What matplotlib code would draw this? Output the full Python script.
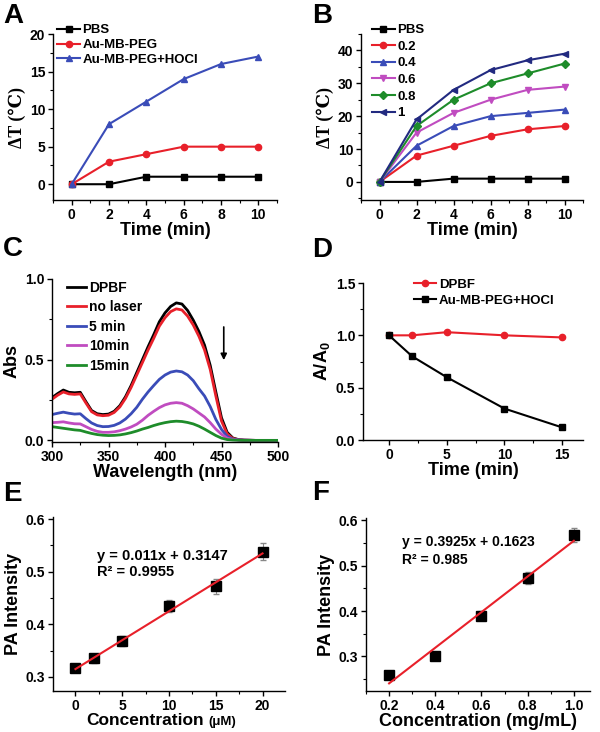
import numpy as np
import matplotlib
matplotlib.use("Agg")
import matplotlib.pyplot as plt
from matplotlib.ticker import AutoMinorLocator, MultipleLocator, FormatStrFormatter

plt.rcParams["font.family"] = ["Liberation Sans", "DejaVu Sans"]
plt.rcParams["font.weight"] = "bold"
plt.rcParams["axes.linewidth"] = 1.0

# ---- data ----
# A: temperature rise
time_a = [0, 2, 4, 6, 8, 10]
pbs_a = [0, 0, 1, 1, 1, 1]
peg_a = [0, 3, 4, 5, 5, 5]
hocl_a = [0, 8, 11, 14, 16, 17]

# B: concentration series
time_b = [0, 2, 4, 6, 8, 10]
b_labels = ["PBS", "0.2", "0.4", "0.6", "0.8", "1"]
b_series = [
    [0, 0, 1, 1, 1, 1],
    [0, 8, 11, 14, 16, 17],
    [0, 11, 17, 20, 21, 22],
    [0, 15, 21, 25, 28, 29],
    [0, 17, 25, 30, 33, 36],
    [0, 19, 28, 34, 37, 39],
]

# C: absorbance spectra
wl = [300, 305, 310, 315, 320, 325, 330, 335, 340, 345, 350, 355, 360, 365,
      370, 375, 380, 385, 390, 395, 400, 405, 410, 415, 420, 425, 430, 435,
      440, 445, 450, 455, 460, 465, 470, 480, 490, 500]
abs_dpbf = [0.265, 0.290, 0.312, 0.298, 0.295, 0.298, 0.240, 0.185, 0.165, 0.160,
            0.163, 0.180, 0.215, 0.270, 0.340, 0.420, 0.500, 0.580, 0.655, 0.735,
            0.790, 0.830, 0.852, 0.845, 0.805, 0.745, 0.675, 0.590, 0.465, 0.300,
            0.140, 0.050, 0.015, 0.005, 0.002, 0.0, 0.0, 0.0]
abs_nolaser = [0.255, 0.280, 0.300, 0.288, 0.285, 0.288, 0.232, 0.178, 0.158, 0.153,
               0.156, 0.173, 0.207, 0.260, 0.328, 0.405, 0.482, 0.560, 0.632, 0.708,
               0.760, 0.798, 0.815, 0.808, 0.770, 0.715, 0.645, 0.560, 0.440, 0.275,
               0.120, 0.040, 0.012, 0.004, 0.001, 0.0, 0.0, 0.0]
abs_5 = [0.160, 0.168, 0.175, 0.168, 0.163, 0.165, 0.135, 0.108, 0.092, 0.085,
         0.086, 0.093, 0.108, 0.132, 0.165, 0.205, 0.255, 0.300, 0.340, 0.378,
         0.405, 0.423, 0.430, 0.425, 0.405, 0.370, 0.320, 0.275, 0.210, 0.130,
         0.068, 0.025, 0.008, 0.003, 0.001, 0.0, 0.0, 0.0]
abs_10 = [0.110, 0.112, 0.115, 0.108, 0.103, 0.102, 0.085, 0.068, 0.056, 0.050,
          0.050, 0.053, 0.060, 0.070, 0.083, 0.100, 0.125, 0.155, 0.180, 0.203,
          0.220, 0.230, 0.234, 0.230, 0.215, 0.195, 0.170, 0.145, 0.110, 0.070,
          0.038, 0.014, 0.005, 0.002, 0.001, 0.0, 0.0, 0.0]
abs_15 = [0.085, 0.080, 0.075, 0.070, 0.065, 0.062, 0.052, 0.043, 0.036, 0.032,
          0.030, 0.031, 0.034, 0.040, 0.048, 0.058, 0.070, 0.080, 0.092, 0.102,
          0.110, 0.116, 0.119, 0.117, 0.111, 0.102, 0.088, 0.070, 0.050, 0.030,
          0.014, 0.005, 0.002, 0.001, 0.0, 0.0, 0.0, 0.0]

# D: DPBF decay
time_d = [0, 2, 5, 10, 15]
dpbf_d = [1.0, 1.0, 1.03, 1.0, 0.98]
hocl_d = [1.0, 0.80, 0.60, 0.30, 0.12]

# E: PA vs concentration (uM)
conc_e = [0, 2, 5, 10, 15, 20]
pa_e = [0.316, 0.335, 0.368, 0.435, 0.472, 0.538]
err_e = [0.007, 0.009, 0.010, 0.012, 0.014, 0.016]
slope_e, icpt_e = 0.011, 0.3147

# F: PA vs concentration (mg/mL)
conc_f = [0.2, 0.4, 0.6, 0.8, 1.0]
pa_f = [0.260, 0.300, 0.390, 0.473, 0.567]
err_f = [0.005, 0.006, 0.010, 0.014, 0.015]
slope_f, icpt_f = 0.3925, 0.1623

RED = "#e8202a"
BLUE = "#3a4cb8"
MAG = "#c04cc0"
GREEN = "#1e8c2a"
NAVY = "#222a80"

W, H = 600, 732
fig = plt.figure(figsize=(W / 100, H / 100), dpi=100)


def rect(l, t, r, b):
    return [l / W, 1 - b / H, (r - l) / W, (b - t) / H]


def style(ax, xmaj, ymaj):
    for s in ["top", "right"]:
        ax.spines[s].set_visible(False)
    ax.xaxis.set_major_locator(MultipleLocator(xmaj))
    ax.yaxis.set_major_locator(MultipleLocator(ymaj))
    ax.xaxis.set_minor_locator(AutoMinorLocator(2))
    ax.yaxis.set_minor_locator(AutoMinorLocator(2))
    ax.tick_params(which="major", direction="out", length=3.5, width=1, labelsize=10, pad=2)
    ax.tick_params(which="minor", direction="out", length=2, width=0.8)
    for lab in ax.get_xticklabels() + ax.get_yticklabels():
        lab.set_fontweight("bold")


def leg(ax, x, y, spacing=0.3, size=9.5, hl=1.7):
    ax.legend(loc="upper left", bbox_to_anchor=(x, y), frameon=False, fontsize=size,
              handlelength=hl, handletextpad=0.2, labelspacing=spacing, borderpad=0,
              borderaxespad=0)


serif = ["Liberation Serif", "DejaVu Serif"]
LBL = 13

# ---- A ----
axA = fig.add_axes(rect(53, 34, 277, 200))
axA.plot(time_a, pbs_a, "-s", color="black", lw=1.5, ms=4, label="PBS")
axA.plot(time_a, peg_a, "-o", color=RED, lw=1.5, ms=4.5, label="Au-MB-PEG")
axA.plot(time_a, hocl_a, "-^", color=BLUE, lw=1.5, ms=4.5, label="Au-MB-PEG+HOCl")
axA.set_xlim(-1, 11)
axA.set_ylim(-2.1, 20)
style(axA, 2, 5)
axA.set_xlabel("Time (min)", fontsize=LBL, fontweight="bold", labelpad=0)
axA.set_ylabel("ΔT (℃)", fontsize=13, family=serif, fontweight="bold", labelpad=3)
leg(axA, 0.02, 1.06, spacing=0.2)

# ---- B ----
axB = fig.add_axes(rect(361, 34, 583, 200))
b_styles = [("s", "black"), ("o", RED), ("^", BLUE), ("v", MAG), ("D", GREEN), ("<", NAVY)]
for vals, lab, (mk, col) in zip(b_series, b_labels, b_styles):
    axB.plot(time_b, vals, "-" + mk, color=col, lw=1.5, ms=4 if mk in "sD" else 4.5, label=lab)
axB.set_xlim(-1, 11)
axB.set_ylim(-5.5, 45)
style(axB, 2, 10)
axB.set_xlabel("Time (min)", fontsize=LBL, fontweight="bold", labelpad=0)
axB.set_ylabel("ΔT (℃)", fontsize=13, family=serif, fontweight="bold", labelpad=3)
leg(axB, 0.05, 1.06, spacing=0.33, size=9.5)

# ---- C ----
axC = fig.add_axes(rect(52, 279, 278, 442))
axC.plot(wl, abs_dpbf, color="black", lw=2, label="DPBF")
axC.plot(wl, abs_nolaser, color=RED, lw=2, label="no laser")
axC.plot(wl, abs_5, color=BLUE, lw=2, label="5 min")
axC.plot(wl, abs_10, color=MAG, lw=2, label="10min")
axC.plot(wl, abs_15, color=GREEN, lw=2, label="15min")
axC.annotate("", xy=(452, 0.48), xytext=(452, 0.72),
             arrowprops=dict(arrowstyle="-|>", color="black", lw=1.2, mutation_scale=9))
axC.set_xlim(300, 500)
axC.set_ylim(-0.01, 1.0)
style(axC, 50, 0.5)
axC.yaxis.set_major_formatter(FormatStrFormatter("%.1f"))
axC.set_xlabel("Wavelength (nm)", fontsize=LBL, fontweight="bold", labelpad=0)
axC.set_ylabel("Abs", fontsize=LBL, fontweight="bold", labelpad=3)
leg(axC, 0.065, 0.99, spacing=0.4, size=10, hl=1.4)

# ---- D ----
axD = fig.add_axes(rect(363, 283, 583, 440))
axD.plot(time_d, dpbf_d, "-o", color=RED, lw=1.5, ms=4.5, label="DPBF")
axD.plot(time_d, hocl_d, "-s", color="black", lw=1.5, ms=4, label="Au-MB-PEG+HOCl")
axD.set_xlim(-2.25, 16.8)
axD.set_ylim(0, 1.5)
style(axD, 5, 0.5)
axD.yaxis.set_major_formatter(FormatStrFormatter("%.1f"))
axD.set_xlabel("Time (min)", fontsize=LBL, fontweight="bold", labelpad=0)
axD.set_ylabel(r"A/A$\mathregular{_0}$", fontsize=LBL, fontweight="bold", labelpad=3)
leg(axD, 0.23, 1.03, spacing=0.3)

# ---- E ----
axE = fig.add_axes(rect(53, 517, 285, 691))
xe = np.array([conc_e[0], conc_e[-1]])
axE.plot(xe, slope_e * xe + icpt_e, color=RED, lw=1.5, zorder=3)
axE.errorbar(conc_e, pa_e, yerr=err_e, fmt="s", color="black", ms=6.5,
             ecolor="#888888", elinewidth=0.8, capsize=2, zorder=2)
axE.set_xlim(-2.4, 22.4)
axE.set_ylim(0.273, 0.604)
style(axE, 5, 0.1)
axE.text(0.188, 0.778, "y = 0.011x + 0.3147", transform=axE.transAxes, fontsize=10.5,
         fontweight="bold", va="center")
axE.text(0.188, 0.686, "R² = 0.9955", transform=axE.transAxes, fontsize=10.5,
         fontweight="bold", va="center")
axE.text(0.65, -0.195, "Concentration", transform=axE.transAxes, fontsize=12.5,
         fontweight="bold", ha="right", va="baseline")
axE.text(0.668, -0.195, "(μM)", transform=axE.transAxes, fontsize=9.5,
         fontweight="bold", ha="left", va="baseline")
axE.set_ylabel("PA Intensity", fontsize=LBL, fontweight="bold", labelpad=3)

# ---- F ----
axF = fig.add_axes(rect(366, 518, 590, 691))
xf = np.array([conc_f[0], conc_f[-1]])
axF.plot(xf, slope_f * xf + icpt_f, color=RED, lw=1.5, zorder=3)
axF.errorbar(conc_f, pa_f, yerr=err_f, fmt="s", color="black", ms=6.5,
             ecolor="#888888", elinewidth=0.8, capsize=2, zorder=2)
axF.set_xlim(0.1, 1.07)
axF.set_ylim(0.224, 0.605)
style(axF, 0.2, 0.1)
axF.text(0.159, 0.863, "y = 0.3925x + 0.1623", transform=axF.transAxes, fontsize=10,
         fontweight="bold", va="center")
axF.text(0.159, 0.757, "R² = 0.985", transform=axF.transAxes, fontsize=10,
         fontweight="bold", va="center")
axF.set_xlabel("Concentration (mg/mL)", fontsize=LBL, fontweight="bold", labelpad=0)
axF.set_ylabel("PA Intensity", fontsize=LBL, fontweight="bold", labelpad=3)

# panel letters
for letter, x, y in [("A", 3, 23), ("B", 312, 23), ("C", 3, 256),
                     ("D", 312, 257), ("E", 3, 501), ("F", 312, 500)]:
    fig.text(x / W, 1 - y / H, letter, fontsize=20, fontweight="bold", va="baseline")

fig.savefig("out.png", dpi=100)
